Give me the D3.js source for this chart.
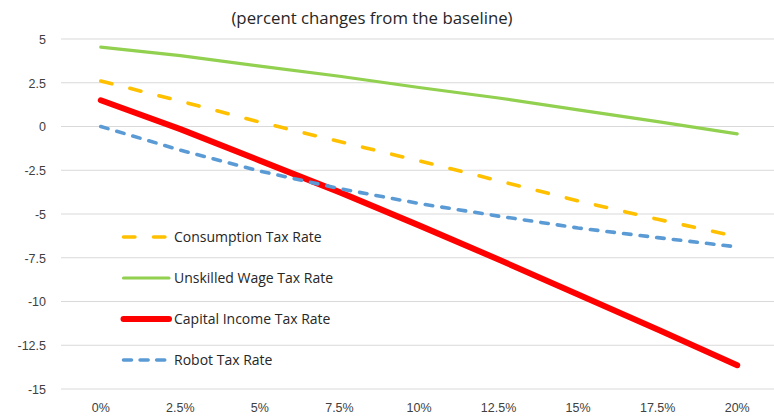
<!DOCTYPE html>
<html>
<head>
<meta charset="utf-8">
<script src="https://cdn.jsdelivr.net/npm/d3@7"></script>
<style>
  html, body { margin: 0; padding: 0; background: #fff; }
  svg { display: block; }
</style>
</head>
<body>
<svg id="chart" width="774" height="418"></svg>
<script>
// ---- data ----
const categories = ["0%", "2.5%", "5%", "7.5%", "10%", "12.5%", "15%", "17.5%", "20%"];
const yTicks = [5, 2.5, 0, -2.5, -5, -7.5, -10, -12.5, -15];
const title = "(percent changes from the baseline)";

const consumption = [2.6, 1.45, 0.25, -0.86, -1.96, -3.1, -4.25, -5.3, -6.3];
const unskilled   = [4.54, 4.05, 3.45, 2.87, 2.23, 1.63, 0.95, 0.28, -0.42];
const capital     = [1.5, -0.15, -1.95, -3.75, -5.65, -7.6, -9.6, -11.6, -13.64];
const robot       = [0, -1.35, -2.55, -3.55, -4.4, -5.12, -5.8, -6.35, -6.88];

const seriesNames = ["Consumption Tax Rate", "Unskilled Wage Tax Rate", "Capital Income Tax Rate", "Robot Tax Rate"];
const seriesValues = [consumption, unskilled, capital, robot];

// ---- styles ----
const styles = [
  { color: "#FFC000", width: 3.6, dash: "11.4,18.6", legendDash: "11.4,18.6" },
  { color: "#92D050", width: 3.2, dash: null, legendDash: null },
  { color: "#FF0000", width: 6, dash: null, legendDash: null },
  { color: "#5B9BD5", width: 3.6, dash: "7.5,9.2", legendDash: "8,8.6" }
];

const svg = d3.select("#chart");

const x = d3.scaleBand().domain(categories).range([61, 777]);
const y = d3.scaleLinear().domain([-15, 5]).range([389, 39]);

// gridlines
svg.append("g")
  .selectAll("line")
  .data(yTicks)
  .join("line")
  .attr("x1", 61).attr("x2", 774)
  .attr("y1", d => y(d)).attr("y2", d => y(d))
  .attr("stroke", "#d9d9d9").attr("stroke-width", 1.2);

// y axis labels
const yAxis = d3.axisLeft(y).tickValues(yTicks).tickSize(0).tickPadding(0)
  .tickFormat(d => String(d));
const gy = svg.append("g").attr("transform", "translate(46,0)").call(yAxis);
gy.select(".domain").remove();
gy.selectAll("text")
  .attr("font-family", "Liberation Sans, Arial, sans-serif")
  .attr("font-size", 12.5).attr("fill", "#404040").attr("dy", "0.35em");

// x axis labels
const xAxis = d3.axisBottom(x).tickSize(0).tickPadding(0);
const gx = svg.append("g").attr("transform", "translate(0,403)").call(xAxis);
gx.select(".domain").remove();
gx.selectAll("text")
  .attr("font-family", "Liberation Sans, Arial, sans-serif")
  .attr("font-size", 12.5).attr("fill", "#404040").attr("dy", "0.71em");

// title
svg.append("text")
  .attr("x", 372).attr("y", 23.5)
  .attr("text-anchor", "middle")
  .attr("font-family", "Open Sans, sans-serif")
  .attr("font-size", 16.8).attr("fill", "#262626")
  .text(title);

// lines
const line = d3.line()
  .x((d, i) => x(categories[i]) + x.bandwidth() / 2)
  .y(d => y(d));

svg.append("g")
  .selectAll("path")
  .data(seriesValues)
  .join("path")
  .attr("d", d => line(d))
  .attr("fill", "none")
  .attr("stroke", (d, i) => styles[i].color)
  .attr("stroke-width", (d, i) => styles[i].width)
  .attr("stroke-dasharray", (d, i) => styles[i].dash)
  .attr("stroke-linecap", "round")
  .attr("stroke-linejoin", "round");

// legend
const legendY = [237, 278, 319, 360];
const lg = svg.append("g")
  .selectAll("g")
  .data(seriesNames)
  .join("g")
  .attr("transform", (d, i) => `translate(0,${legendY[i]})`);

lg.append("line")
  .attr("x1", 123.5)
  .attr("x2", 169)
  .attr("y1", 0).attr("y2", 0)
  .attr("stroke", (d, i) => styles[i].color)
  .attr("stroke-width", (d, i) => styles[i].width)
  .attr("stroke-dasharray", (d, i) => styles[i].legendDash)
  .attr("stroke-linecap", "round");

lg.append("text")
  .attr("x", 174).attr("y", 0).attr("dy", "0.35em")
  .attr("font-family", "Open Sans, sans-serif")
  .attr("font-size", 14).attr("fill", "#262626")
  .text(d => d);
</script>
</body>
</html>
